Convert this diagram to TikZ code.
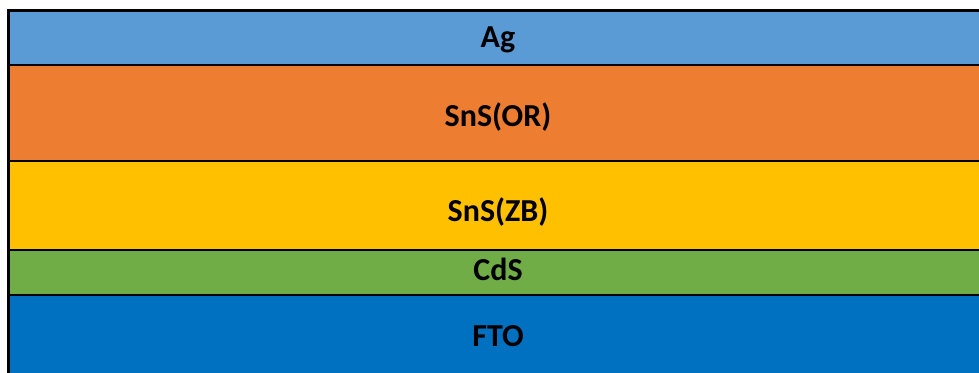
\documentclass[tikz,border=0pt]{standalone}
\usepackage{fontspec}
\setmainfont{Carlito}
\definecolor{agblue}{HTML}{5B9BD5}
\definecolor{ororange}{HTML}{ED7D31}
\definecolor{zbyellow}{HTML}{FFC000}
\definecolor{cdsgreen}{HTML}{70AD47}
\definecolor{ftoblue}{HTML}{0070C0}
\begin{document}
\begin{tikzpicture}[x=1pt,y=1pt,
  layerbox/.style={draw=black,line width=2pt},
  lbl/.style={anchor=base,inner sep=0pt,font=\bfseries\fontsize{32}{36}\selectfont}]
\useasboundingbox (0,0) rectangle (979,372);
\clip (0,0) rectangle (979,372);
% stack of layers, top to bottom
\filldraw[layerbox,fill=agblue]    (8,361) rectangle (990,307);
\filldraw[layerbox,fill=ororange]  (8,307) rectangle (990,211);
\filldraw[layerbox,fill=zbyellow]  (8,211) rectangle (990,122);
\filldraw[layerbox,fill=cdsgreen]  (8,122) rectangle (990,77);
\filldraw[layerbox,fill=ftoblue]   (8,77)  rectangle (990,-20);
% outer frame
\draw[line width=3pt] (8,-20) -- (8,361) -- (990,361);
% layer labels
\node[lbl] (ag)  at (498,324) {Ag};
\node[lbl] (snsor) at (498,245) {SnS(OR)};
\node[lbl] (snszb) at (498,150) {SnS(ZB)};
\node[lbl] (cds) at (498,91) {CdS};
\node[lbl] (fto) at (498,26) {FTO};
\end{tikzpicture}
\end{document}
